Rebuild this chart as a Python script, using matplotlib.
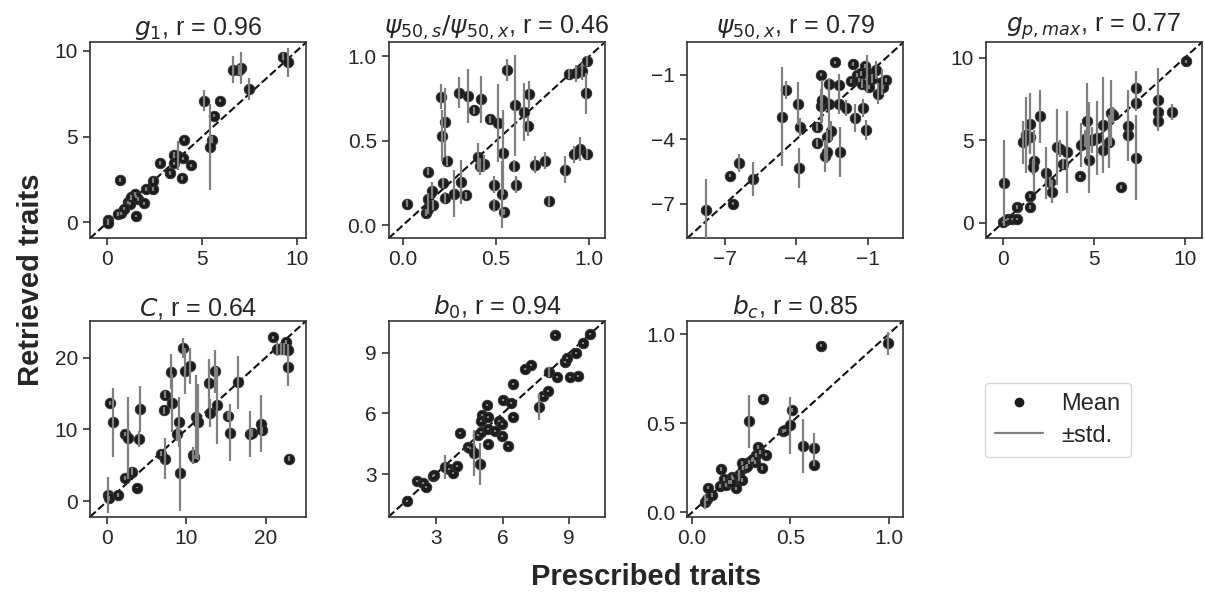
"""Prescribed vs retrieved traits, seven scatter panels with std bars."""

import matplotlib

matplotlib.use("Agg")
import matplotlib.pyplot as plt
from matplotlib.lines import Line2D
import seaborn as sns

sns.set_style("ticks")
plt.rcParams["font.family"] = ["Liberation Sans", "DejaVu Sans"]

# ---- data -----------------------------------------------------------------
g1_true = [0.03, 0.03, 0.56, 0.70, 1.52, 0.68, 1.08, 1.26, 1.43, 1.61, 1.92, 2.01, 2.43,
           2.43, 2.76, 3.31, 3.92, 3.50, 3.50, 3.71, 3.97, 4.03, 4.41, 5.11, 5.92, 5.64,
           5.51, 5.43, 6.63, 7.04, 6.95, 7.48, 9.26, 9.52, 1.20, 1.50, 0.90]
g1_ret = [0.12, -0.04, 0.50, 0.54, 0.37, 2.48, 1.18, 1.47, 1.67, 1.38, 1.12, 1.96, 1.96,
          2.44, 3.47, 2.87, 2.60, 3.93, 3.45, 3.90, 3.74, 4.83, 3.32, 7.10, 7.10, 6.22,
          4.83, 4.38, 8.90, 8.98, 8.88, 7.77, 9.66, 9.33, 1.10, 1.50, 0.80]
g1_std = [0.1, 0.1, 0.1, 0.1, 0.05, 0.1, 0.1, 0.15, 0.1, 0.1, 0.1, 0.1, 0.1, 0.15, 0.1,
          0.1, 0.1, 0.2, 0.1, 0.87, 0.1, 0.1, 0.1, 0.6, 0.1, 0.1, 0.2, 2.5, 0.8, 0.92,
          0.3, 0.66, 0.2, 0.85, 0.1, 0.1, 0.1]

ratio_true = [0.021, 0.122, 0.134, 0.134, 0.134, 0.158, 0.161, 0.206, 0.211, 0.226, 0.236,
              0.215, 0.224, 0.276, 0.299, 0.313, 0.340, 0.349, 0.383, 0.403, 0.412, 0.420,
              0.435, 0.465, 0.489, 0.490, 0.510, 0.533, 0.539, 0.544, 0.559, 0.596, 0.603,
              0.609, 0.648, 0.670, 0.677, 0.707, 0.763, 0.782, 0.868, 0.890, 0.93, 0.96,
              0.985, 0.98, 0.95, 0.92, 0.985]
ratio_ret = [0.128, 0.075, 0.095, 0.158, 0.316, 0.203, 0.122, 0.759, 0.529, 0.612, 0.379,
             0.250, 0.164, 0.187, 0.785, 0.256, 0.178, 0.765, 0.680, 0.404, 0.349, 0.744,
             0.365, 0.627, 0.239, 0.118, 0.606, 0.183, 0.430, 0.079, 0.921, 0.353, 0.710,
             0.239, 0.671, 0.586, 0.775, 0.357, 0.381, 0.144, 0.329, 0.897, 0.90, 0.91,
             0.97, 0.78, 0.45, 0.42, 0.42]
ratio_std = [0.02, 0.02, 0.03, 0.03, 0.02, 0.05, 0.03, 0.074, 0.15, 0.2, 0.03, 0.03, 0.03,
             0.14, 0.09, 0.13, 0.02, 0.16, 0.02, 0.08, 0.05, 0.14, 0.05, 0.02, 0.05, 0.04,
             0.23, 0.2, 0.25, 0.02, 0.065, 0.035, 0.3, 0.05, 0.17, 0.06, 0.08, 0.05, 0.05,
             0.03, 0.08, 0.03, 0.05, 0.05, 0.03, 0.12, 0.07, 0.05, 0.03]

psi_true = [-7.81, -6.80, -6.65, -6.39, -5.84, -4.62, -4.43, -3.94, -3.83, -3.90, -3.12,
            -3.12, -2.95, -2.93, -2.95, -2.81, -2.70, -2.64, -2.63, -2.53, -2.70, -2.39,
            -2.22, -2.22, -2.15, -1.93, -1.69, -1.60, -1.53, -1.47, -1.37, -1.26, -1.19,
            -1.08, -1.11, -1.05, -0.94, -0.84, -0.67, -0.56, -0.42, -0.35, -0.22, -1.30,
            -2.93]
psi_ret = [-7.26, -5.68, -6.98, -5.10, -5.85, -2.95, -1.70, -2.35, -3.43, -5.34, -3.43,
           -4.17, -1.00, -2.24, -2.45, -4.79, -3.89, -2.35, -1.46, -3.61, -4.59, -0.44,
           -1.49, -2.35, -4.57, -2.55, -1.31, -0.52, -3.01, -1.03, -1.26, -1.42, -2.55,
           -3.58, -0.61, -0.95, -1.57, -1.19, -0.77, -1.88, -1.34, -1.57, -1.26, -0.95,
           -2.16]
psi_std = [1.44, 0.05, 0.05, 0.44, 0.8, 2.3, 0.42, 1.0, 0.42, 0.93, 0.2, 0.2, 0.05, 1.0,
           0.8, 0.75, 0.3, 1.2, 0.1, 0.45, 0.5, 0.05, 0.5, 0.5, 1.16, 0.35, 0.1, 0.1, 0.65,
           0.1, 0.1, 0.2, 0.42, 0.45, 0.1, 0.85, 0.1, 0.2, 0.42, 0.5, 0.6, 0.1, 0.1, 0.1,
           0.1]

gp_true = [0.07, 0.03, 0.18, 0.31, 0.49, 0.77, 0.77, 1.51, 1.51, 1.10, 1.28, 1.51, 1.51,
           1.73, 1.69, 2.06, 2.37, 2.61, 2.74, 2.98, 3.17, 3.31, 3.53, 4.27, 4.31, 4.64,
           4.55, 4.73, 4.92, 4.73, 5.20, 5.53, 5.53, 5.86, 5.97, 6.06, 6.49, 6.91, 6.91,
           7.35, 7.35, 7.35, 8.52, 8.52, 8.52, 9.31, 10.05]
gp_ret = [2.44, 0.06, 0.16, 0.22, 0.22, 0.22, 0.97, 1.64, 0.97, 4.89, 5.31, 6.02, 5.21,
          3.76, 3.39, 6.46, 3.03, 2.48, 1.88, 4.61, 4.50, 3.56, 4.30, 2.83, 4.71, 6.16,
          5.11, 5.05, 5.01, 3.80, 5.15, 5.92, 4.40, 4.91, 6.67, 6.53, 2.18, 5.88, 5.31,
          8.20, 7.27, 3.96, 7.47, 6.73, 6.18, 6.73, 9.80]
gp_std = [2.6, 0.05, 0.05, 0.05, 0.05, 0.05, 0.1, 0.1, 0.1, 1.3, 2.3, 1.85, 1.0, 1.9, 0.5,
          1.6, 1.55, 0.3, 0.7, 2.3, 0.5, 0.3, 2.5, 0.1, 1.35, 2.3, 0.5, 2.3, 0.8, 2.0,
          2.25, 2.9, 0.5, 1.6, 2.0, 0.5, 0.1, 2.15, 0.5, 1.0, 0.5, 2.6, 1.9, 0.5, 0.5,
          0.5, 0.1]

c_true = [0.16, 0.24, 1.41, 0.37, 0.79, 2.25, 2.67, 2.25, 3.09, 3.72, 4.14, 4.02, 6.78,
          7.29, 7.20, 7.29, 8.13, 8.25, 9.09, 8.84, 9.26, 9.64, 9.80, 10.52, 10.85, 10.98,
          11.19, 11.48, 12.95, 12.87, 13.58, 13.87, 15.26, 15.55, 16.56, 17.98, 18.32,
          19.37, 19.58, 20.88, 21.46, 21.97, 22.39, 22.60, 22.80, 22.89, 22.93]
c_ret = [0.86, 0.40, 0.86, 13.72, 11.04, 9.37, 8.86, 3.26, 4.10, 1.92, 12.89, 8.72, 6.64,
         5.95, 12.70, 14.83, 18.07, 13.67, 11.04, 9.42, 4.00, 21.31, 18.21, 18.90, 6.41,
         6.18, 11.73, 11.04, 12.29, 16.45, 18.12, 13.35, 11.87, 9.56, 16.59, 9.37, 9.51,
         10.81, 9.88, 22.84, 21.22, 21.22, 21.22, 22.14, 21.08, 18.67, 5.95]
c_std = [2.5, 0.3, 0.3, 0.3, 4.8, 0.3, 5.7, 0.3, 0.5, 0.1, 3.2, 1.1, 0.3, 2.8, 0.5, 0.5,
         2.4, 4.0, 3.5, 1.0, 5.3, 1.4, 3.2, 2.5, 1.2, 0.3, 5.8, 5.3, 2.0, 3.4, 3.0, 5.3,
         0.5, 4.0, 3.7, 3.2, 0.5, 4.0, 0.5, 0.2, 1.0, 0.8, 0.8, 0.3, 0.8, 2.6, 0.4]

b0_true = [1.69, 2.16, 2.41, 2.56, 2.86, 2.91, 3.43, 3.61, 3.79, 3.96, 4.11, 4.44, 4.54,
           4.74, 5.01, 4.89, 5.04, 5.07, 5.04, 5.29, 5.34, 5.37, 5.34, 5.64, 5.82, 5.97,
           5.98, 6.01, 6.24, 6.39, 6.46, 6.46, 6.99, 7.26, 7.66, 7.81, 8.04, 8.11, 8.46,
           8.37, 8.82, 8.91, 9.01, 9.30, 9.60, 9.95, 9.40]
b0_ret = [1.67, 2.66, 2.53, 2.37, 2.89, 2.97, 3.35, 3.27, 3.06, 3.40, 5.05, 4.34, 4.29,
          4.04, 3.49, 4.92, 5.08, 5.94, 5.61, 6.40, 5.25, 5.82, 4.47, 5.12, 5.61, 5.49,
          4.87, 6.68, 4.39, 6.53, 7.44, 5.82, 8.18, 8.38, 6.32, 6.86, 7.09, 8.05, 7.80,
          9.91, 8.57, 8.74, 7.80, 9.00, 9.50, 9.95, 7.85]
b0_std = [0.05, 0.05, 0.05, 0.05, 0.05, 0.05, 0.58, 0.05, 0.05, 0.05,
          0.05, 0.05, 0.05, 1.15, 1.03, 0.05, 0.05, 0.05, 0.05, 0.05,
          0.05, 0.05, 0.05, 0.05, 0.05, 0.05, 0.05, 0.05, 0.05, 0.05,
          0.05, 0.05, 0.05, 0.05, 0.66, 0.05, 0.05, 0.25, 0.05, 0.05,
          0.05, 0.05, 0.05, 0.05, 0.05, 0.05, 0.05]

bc_true = [0.065, 0.074, 0.101, 0.079, 0.147, 0.142, 0.161, 0.173, 0.190, 0.203, 0.223,
           0.240, 0.252, 0.254, 0.257, 0.274, 0.288, 0.291, 0.305, 0.320, 0.326, 0.338,
           0.346, 0.357, 0.363, 0.374, 0.462, 0.474, 0.496, 0.506, 0.564, 0.621, 0.621,
           0.655, 0.994, 0.210, 0.280, 0.310, 0.200]
bc_ret = [0.059, 0.072, 0.096, 0.139, 0.242, 0.147, 0.186, 0.152, 0.171, 0.199, 0.134,
          0.208, 0.180, 0.277, 0.249, 0.255, 0.510, 0.283, 0.292, 0.283, 0.320, 0.367,
          0.339, 0.249, 0.637, 0.324, 0.456, 0.460, 0.488, 0.575, 0.372, 0.361, 0.268,
          0.935, 0.948, 0.190, 0.260, 0.300, 0.170]
bc_std = [0.04, 0.01, 0.01, 0.01, 0.01, 0.01, 0.01, 0.01, 0.01, 0.01, 0.01, 0.03, 0.01,
          0.01, 0.01, 0.01, 0.15, 0.01, 0.01, 0.01, 0.01, 0.01, 0.01, 0.01, 0.01, 0.01,
          0.01, 0.01, 0.16, 0.01, 0.15, 0.085, 0.01, 0.01, 0.065, 0.01, 0.01, 0.01, 0.01]

titles = [r"$g_1$, r = 0.96", r"$\psi_{50,s}/\psi_{50,x}$, r = 0.46",
          r"$\psi_{50,x}$, r = 0.79", r"$g_{p,max}$, r = 0.77",
          r"$C$, r = 0.64", r"$b_0$, r = 0.94", r"$b_c$, r = 0.85"]
ticks = [[0, 5, 10], [0.0, 0.5, 1.0], [-7, -4, -1], [0, 5, 10],
         [0, 10, 20], [3, 6, 9], [0.0, 0.5, 1.0]]
limits = [(-0.92, 10.5), (-0.077, 1.083), (-8.59, 0.5), (-0.93, 10.95),
          (-2.15, 25.15), (0.88, 10.6), (-0.025, 1.075)]

panels = [
    (g1_true, g1_ret, g1_std),
    (ratio_true, ratio_ret, ratio_std),
    (psi_true, psi_ret, psi_std),
    (gp_true, gp_ret, gp_std),
    (c_true, c_ret, c_std),
    (b0_true, b0_ret, b0_std),
    (bc_true, bc_ret, bc_std),
]

# ---- figure -----------------------------------------------------------------
fig, axes = plt.subplots(2, 4, figsize=(12.05, 5.94), dpi=100)
fig.subplots_adjust(left=0.0747, right=0.9975, top=0.929, bottom=0.13,
                    wspace=0.38, hspace=0.42)

for i, ax in enumerate(axes.flat):
    if i >= len(panels):
        ax.axis("off")
        continue
    x, y, s = panels[i]
    lo, hi = limits[i]
    ax.plot([lo, hi], [lo, hi], color="#111111", linestyle="--", linewidth=1.5,
            zorder=1)
    ax.scatter(x, y, s=58, color="#1c1c1c", edgecolor="#333333", linewidth=0.6,
               zorder=2)
    ax.errorbar(x, y, yerr=s, fmt="none", ecolor="#808080", elinewidth=1.6,
                capsize=0, zorder=3)
    ax.set_xlim(lo, hi)
    ax.set_ylim(lo, hi)
    ax.set_xticks(ticks[i])
    ax.set_yticks(ticks[i])
    ax.set_title(titles[i], fontsize=18, pad=4)
    ax.tick_params(labelsize=15, length=5, width=1.2, color="#333333")
    for sp in ax.spines.values():
        sp.set_linewidth(1.2)
        sp.set_color("#333333")

handles = [
    Line2D([], [], marker="o", linestyle="none", color="#1c1c1c", markersize=6,
           label="Mean"),
    Line2D([], [], color="#808080", linewidth=1.6, label="±std."),
]
fig.legend(handles=handles, loc="center", bbox_to_anchor=(0.878, 0.293),
           fontsize=17, frameon=True, handlelength=2.0, borderpad=0.45,
           labelspacing=0.4)

fig.supxlabel("Prescribed traits", fontsize=21, fontweight="bold", x=0.536, y=0.005)
fig.supylabel("Retrieved traits", fontsize=21, fontweight="bold", x=0.014, y=0.529)

plt.savefig("out.png", dpi=100)
plt.close()
